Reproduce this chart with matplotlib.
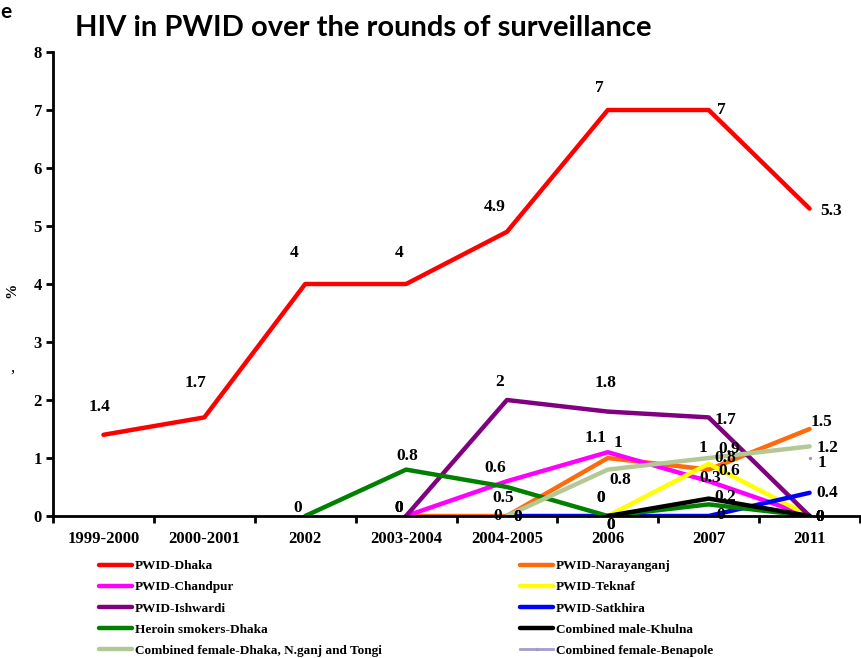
import matplotlib
matplotlib.use('Agg')
import matplotlib.pyplot as plt

# categories on the x axis
rounds = ['1999-2000', '2000-2001', '2002', '2003-2004', '2004-2005', '2006', '2007', '2011']

# HIV prevalence (%) per group, None = not surveyed
pwid_dhaka = [1.4, 1.7, 4, 4, 4.9, 7, 7, 5.3]
pwid_narayanganj = [None, None, None, 0, 0, 1, 0.8, 1.5]
pwid_chandpur = [None, None, None, 0, 0.6, 1.1, 0.6, 0]
pwid_teknaf = [None, None, None, None, None, 0, 0.9, 0]
pwid_ishwardi = [None, None, None, 0, 2, 1.8, 1.7, 0]
pwid_satkhira = [None, None, None, None, 0, 0, 0, 0.4]
heroin_dhaka = [None, None, 0, 0.8, 0.5, 0, 0.2, 0]
male_khulna = [None, None, None, None, None, 0, 0.3, 0]
female_dhaka = [None, None, None, None, 0, 0.8, 1, 1.2]
female_benapole = [None, None, None, None, None, None, None, 1]

series = [
    ('PWID-Dhaka', pwid_dhaka, '#ff0000'),
    ('PWID-Narayanganj', pwid_narayanganj, '#ff6a0a'),
    ('PWID-Chandpur', pwid_chandpur, '#ff00ff'),
    ('PWID-Teknaf', pwid_teknaf, '#ffff00'),
    ('PWID-Ishwardi', pwid_ishwardi, '#800080'),
    ('PWID-Satkhira', pwid_satkhira, '#0000ff'),
    ('Heroin smokers-Dhaka', heroin_dhaka, '#008000'),
    ('Combined male-Khulna', male_khulna, '#000000'),
    ('Combined female-Dhaka, N.ganj and Tongi', female_dhaka, '#b3c895'),
    ('Combined female-Benapole', female_benapole, '#a69ccb'),
]

# data label offsets in pixels (dx, dy) for each plotted point
label_offsets = {
    'PWID-Dhaka': [(-4, 28), (-9, 34), (-11, 31), (-7, 31), (-12, 25), (-9, 22), (13, 0), (22, -2)],
    'PWID-Narayanganj': [None, None, None, (-7, 8), (-9, 0), (10, 15), (17, 12), (12, 7)],
    'PWID-Chandpur': [None, None, None, (-7, 8), (-12, 13), (-12, 14), (21, 10), (10, -1)],
    'PWID-Teknaf': [None, None, None, None, None, (-7, 18), (21, 15), (10, -1)],
    'PWID-Ishwardi': [None, None, None, (-7, 8), (-7, 18), (-2, 29), (17, -3), (10, -1)],
    'PWID-Satkhira': [None, None, None, None, (11, -1), (3, -9), (12, 1), (18, 0)],
    'Heroin smokers-Dhaka': [None, None, (-8, 8), (1, 14), (-4, -11), (3, -9), (17, 7), (10, -1)],
    'Combined male-Khulna': [None, None, None, None, None, (-7, 18), (2, 21), (10, -1)],
    'Combined female-Dhaka, N.ganj and Tongi': [None, None, None, None, (11, -1), (13, -10), (-6, 10), (18, -2)],
    'Combined female-Benapole': [None, None, None, None, None, None, None, (12, -5)],
}

fig = plt.figure(figsize=(8.61, 6.58), dpi=100)
ax = fig.add_axes([53 / 861, 142 / 658, 807 / 861, 464 / 658])

x = list(range(len(rounds)))
handles = []
for name, vals, color in series:
    xs = [i for i, v in zip(x, vals) if v is not None]
    ys = [v for v in vals if v is not None]
    if name == 'Combined female-Benapole':
        h, = ax.plot(xs, ys, color=color, lw=2, marker='.', markersize=3, label=name)
    else:
        h, = ax.plot(xs, ys, color=color, lw=3.2, solid_capstyle='round', label=name)
    handles.append(h)
    for i, v in zip(xs, ys):
        dx, dy = label_offsets[name][i]
        ax.annotate(f'{v:g}', (i, v), xytext=(dx, dy), textcoords='offset pixels',
                    ha='center', va='center', fontsize=12.5, fontweight='bold',
                    family='Liberation Serif', clip_on=False, zorder=6)

ax.set_xlim(-0.5, len(rounds) - 0.5)
ax.set_ylim(0, 8)
ax.set_yticks(range(9))
ax.set_xticks(x)
ax.set_xticklabels(rounds)
ax.set_xticks([i + 0.5 for i in range(-1, len(rounds))], minor=True)
ax.tick_params(axis='x', which='major', length=0, pad=11)
ax.tick_params(axis='x', which='minor', length=5, width=2, direction='out')
ax.tick_params(axis='y', length=5, width=2, direction='out', pad=3)
for lbl in ax.get_xticklabels() + ax.get_yticklabels():
    lbl.set_family('Liberation Serif')
    lbl.set_fontweight('bold')
    lbl.set_fontsize(12)
for sp in ['top', 'right']:
    ax.spines[sp].set_visible(False)
for sp in ['left', 'bottom']:
    ax.spines[sp].set_linewidth(2)

ax.set_ylabel('%', family='Liberation Serif', fontweight='bold', fontsize=11)
ax.yaxis.set_label_coords(-0.043, 0.487)

fig.text(75 / 861, 1 - 28 / 658, 'HIV in PWID over the rounds of surveillance',
         family='Lato', fontweight='bold', fontsize=21, va='center', ha='left')
# stray characters at the crop edge
fig.text(0 / 861, 1 - 12 / 658, 'e', family='Lato', fontweight='bold', fontsize=15, va='center')
fig.text(10 / 861, 1 - 368 / 658, ',', family='Liberation Serif', fontsize=12, va='center')

order = handles[0::2] + handles[1::2]
leg = fig.legend(order, [h.get_label() for h in order], ncol=2, frameon=False,
                 loc='upper left', bbox_to_anchor=(99 / 861, 1 - 560 / 658),
                 prop={'family': 'Liberation Serif', 'weight': 'bold', 'size': 9.5},
                 handlelength=2.5, handletextpad=0.2, columnspacing=10.5, labelspacing=0.68,
                 borderaxespad=0, borderpad=0)

fig.savefig('out.png', dpi=100)
